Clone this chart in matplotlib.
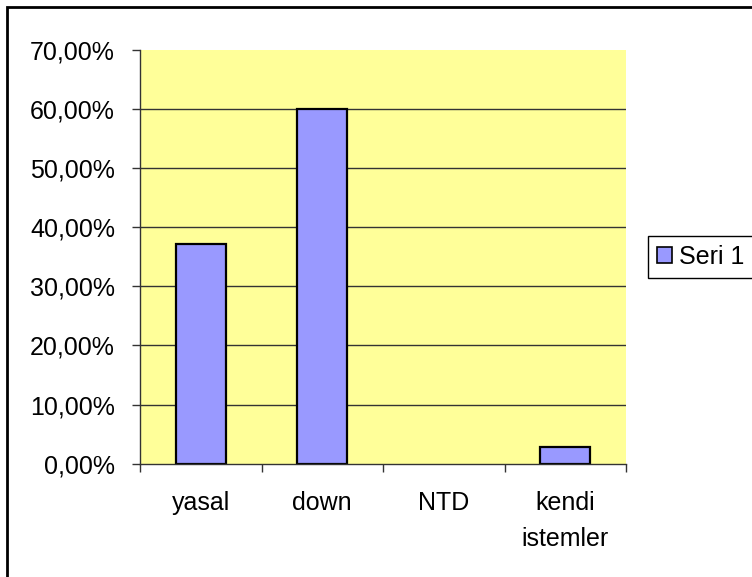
import matplotlib
matplotlib.use("Agg")
import matplotlib.pyplot as plt
from matplotlib.patches import Rectangle, Patch
from matplotlib.ticker import FixedLocator, FuncFormatter

plt.rcParams['font.family'] = ['Liberation Sans', 'DejaVu Sans']

categories = ["yasal", "down", "NTD", "kendi\nistemler"]
values = [0.3714, 0.60, 0.0, 0.0286]
series_name = "Seri 1"
yticks = [0.0, 0.1, 0.2, 0.3, 0.4, 0.5, 0.6, 0.7]

FS = 18
W, H = 752, 577
fig = plt.figure(figsize=(W / 100, H / 100), dpi=100)
fig.patch.set_facecolor("white")

# outer chart border (left and top edges visible)
fig.patches.append(Rectangle((7 / W, -0.2), 1.5, (H - 7) / H + 0.2,
                             transform=fig.transFigure, fill=False,
                             edgecolor="black", linewidth=2, zorder=0))

ax = fig.add_axes([140 / W, 1 - 463.7 / H, (626 - 140) / W, (463.7 - 49.7) / H])
ax.set_facecolor("#FFFF99")

x = list(range(len(categories)))
bars = ax.bar(x, values, width=0.41, color="#9999FF", edgecolor="black",
              linewidth=1.6, zorder=3)
# zero-height bars show nothing
for b, v in zip(bars, values):
    if v == 0:
        b.set_linewidth(0)

ax.set_xlim(-0.5, len(categories) - 0.5)
ax.set_ylim(0, 0.7)

ax.set_yticks(yticks)
ax.yaxis.set_major_formatter(FuncFormatter(lambda v, p: f"{v * 100:.2f}%".replace(".", ",")))
for y in yticks[1:-1]:
    ax.axhline(y, color="#333333", linewidth=1.0, zorder=1)

ax.set_xticks(x)
ax.set_xticklabels(categories, fontsize=FS, linespacing=1.65)
ax.xaxis.set_minor_locator(FixedLocator([i - 0.5 for i in range(len(categories) + 1)]))
ax.tick_params(axis="x", which="major", length=0, pad=19.5)
ax.tick_params(axis="x", which="minor", length=6, width=1, color="#333333", direction="out")
ax.tick_params(axis="y", length=6, width=1, color="#333333", direction="out",
               labelsize=FS, pad=12)

for side in ("top", "right"):
    ax.spines[side].set_visible(False)
for side in ("left", "bottom"):
    ax.spines[side].set_color("#333333")
    ax.spines[side].set_linewidth(1.0)
    ax.spines[side].set_zorder(4)

handle = Patch(facecolor="#9999FF", edgecolor="black", linewidth=1.2, label=series_name)
leg = fig.legend(handles=[handle], loc="upper left",
                 bbox_to_anchor=(648 / W, 1 - 236 / H), fontsize=FS,
                 fancybox=False, frameon=True, framealpha=1,
                 edgecolor="black", handlelength=0.6, handleheight=0.6,
                 handletextpad=0.3, borderpad=0.35, borderaxespad=0)
leg.get_frame().set_linewidth(1.0)

fig.savefig("out.png", dpi=100)
